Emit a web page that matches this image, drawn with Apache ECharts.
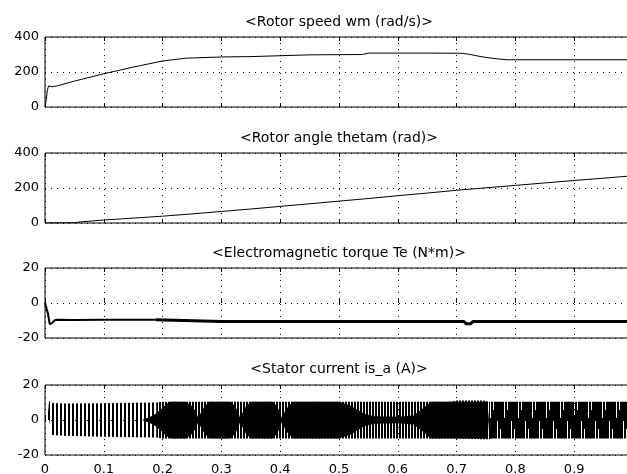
<!DOCTYPE html>
<html>
<head>
<meta charset="utf-8">
<script src="https://cdn.jsdelivr.net/npm/echarts@6/dist/echarts.min.js"></script>
<style>
  html, body { margin: 0; padding: 0; background: #fff; }
  #main { width: 627px; height: 474px; }
</style>
</head>
<body>
<div id="main"></div>
<script>
// time axis labels (seconds)
var timeTicks = ['0', '0.1', '0.2', '0.3', '0.4', '0.5', '0.6', '0.7', '0.8', '0.9', '1'];

var plotTitles = [
  '<Rotor speed wm (rad/s)>',
  '<Rotor angle thetam (rad)>',
  '<Electromagnetic torque Te (N*m)>',
  '<Stator current is_a (A)>'
];

// rotor speed wm
var speedT = [0, 0.002, 0.004, 0.006, 0.009, 0.013, 0.02, 0.05, 0.1, 0.15, 0.2, 0.24, 0.3, 0.35, 0.4, 0.45, 0.54, 0.55, 0.6, 0.65, 0.71, 0.72, 0.735, 0.75, 0.77, 0.785, 0.8, 0.9, 1.0];
var speedW = [0, 40, 95, 120, 128, 116, 120, 148, 190, 228, 263, 279, 286, 288, 293, 298, 300, 308, 308, 308, 307, 302, 292, 283, 275, 270, 270, 270, 270];

// rotor angle thetam
var angleT = [0, 0.05, 0.06, 0.1, 0.15, 0.2, 0.25, 0.3, 0.35, 0.4, 0.45, 0.5, 0.55, 0.6, 0.65, 0.7, 0.75, 0.8, 0.85, 0.9, 0.95, 1.0];
var angleTheta = [0, 2, 6, 17, 28, 39, 52, 66, 80, 95, 110, 125, 140, 156, 171, 187, 201, 215, 229, 243, 256, 270];

// electromagnetic torque Te: start-up part and steady part
var torqueT1 = [0, 0.003, 0.005, 0.008, 0.012, 0.016, 0.02, 0.05, 0.1, 0.15, 0.188];
var torqueTe1 = [0, 0, -6, -12, -11.5, -10, -9.6, -9.7, -9.6, -9.6, -9.6];
var torqueT2 = [0.188, 0.19, 0.3, 0.5, 0.7, 0.712, 0.716, 0.724, 0.728, 0.8, 1.0];
var torqueTe2 = [-9.6, -10.6, -10.6, -10.6, -10.5, -10.5, -11.8, -11.8, -10.5, -10.5, -10.5];

// stator current is_a: envelope of the oscillation
var currEnvT = [0, 0.004, 0.007, 0.012, 0.03, 0.1, 0.19, 0.2, 0.5, 0.69, 0.7, 0.745, 0.755, 0.76, 1.0];
var currEnvHi = [0, 0.3, 10.8, 9.8, 9.5, 9.6, 10, 10.5, 10.5, 10.5, 11.2, 11.2, 10.5, 10.5, 10.5];
var currEnvLo = [0, -0.3, 0, -8.5, -9, -9.5, -10, -10.5, -10.5, -10.5, -10.5, -11, -11, -10.5, -10.5];

// stator current: half height of the solid (densely filled) part
var currSolidT = [0.165, 0.18, 0.19, 0.2, 0.21, 0.215, 0.24, 0.25, 0.256, 0.261, 0.266, 0.272, 0.28,
  0.315, 0.323, 0.328, 0.332, 0.337, 0.342, 0.35, 0.387, 0.394, 0.399, 0.403, 0.408, 0.414, 0.422,
  0.5, 0.52, 0.542, 0.56, 0.6, 0.627, 0.644, 0.656, 0.752, 0.755];
var currSolidHalf = [0, 2, 4, 7, 10, 10.5, 10.5, 8, 5, 1, 5, 8, 10.5,
  10.5, 8, 5, 1, 5, 8, 10.5, 10.5, 8, 5, 1, 5, 8, 10.5,
  10.5, 8.3, 3.7, 2.2, 1.8, 2.6, 7, 10.5, 10.5, 0];

var FONT = 'DejaVu Sans';
var gridTops = [37, 153, 268, 385];
var titleTops = [15, 131, 246, 362];

function pairs(xs, ys) {
  return xs.map(function (x, i) { return [x, ys[i]]; });
}

function stripes(on, off) {
  var c = document.createElement('canvas');
  c.width = on + off;
  c.height = 4;
  var g = c.getContext('2d');
  g.fillStyle = '#000';
  g.fillRect(0, 0, on, 4);
  return { image: c, repeat: 'repeat' };
}

// dense tail of the current: black with gaps alternating in the upper and lower half
function wedges() {
  var c = document.createElement('canvas');
  c.width = 14;
  c.height = 474;
  var g = c.getContext('2d');
  g.fillStyle = '#000';
  g.fillRect(0, 0, 14, 474);
  g.clearRect(0, 398, 1, 20);
  g.clearRect(3, 398, 1, 12);
  g.clearRect(7, 421, 1, 20);
  g.clearRect(10, 429, 1, 12);
  return { image: c, repeat: 'repeat' };
}

// filled band between lo and hi on the current plot, one polygon
function band(ts, lo, hi, fill, z) {
  var rows = ts.map(function (t, i) { return [t, lo[i], hi[i]]; });
  return {
    type: 'custom', xAxisIndex: 3, yAxisIndex: 3, z: z, silent: true, clip: true,
    data: rows,
    renderItem: function (params, api) {
      if (params.dataIndex !== 0) return null;
      var pts = [];
      rows.forEach(function (r) { pts.push(api.coord([r[0], r[2]])); });
      for (var k = rows.length - 1; k >= 0; k--) pts.push(api.coord([rows[k][0], rows[k][1]]));
      return { type: 'polygon', shape: { points: pts }, style: { fill: fill, stroke: null } };
    }
  };
}

function segment(ts, a, b) {
  var idx = [];
  ts.forEach(function (t, i) { if (t >= a && t <= b) idx.push(i); });
  return idx;
}

var myChart = echarts.init(document.getElementById('main'));

var grids = [], xAxes = [], yAxes = [];
var yRanges = [[0, 400, 200], [0, 400, 200], [-20, 20, 20], [-20, 20, 20]];
var dotted = { color: '#000', width: 1, type: [1, 5] };

for (var i = 0; i < 4; i++) {
  grids.push({
    left: 45, top: gridTops[i], width: 588, height: 70, outerBoundsMode: 'none',
    show: true, borderColor: '#000', borderWidth: 1, backgroundColor: '#fff'
  });
  yAxes.push({
    gridIndex: i, type: 'value', min: yRanges[i][0], max: yRanges[i][1], interval: yRanges[i][2],
    axisLine: { show: false }, axisTick: { show: false },
    axisLabel: { color: '#000', fontFamily: FONT, fontSize: 13, margin: 6 },
    splitLine: { show: true, lineStyle: dotted }
  });
}
for (var i = 0; i < 4; i++) {
  xAxes.push({
    gridIndex: i, type: 'value', min: 0, max: 1, interval: 0.1, position: 'bottom',
    axisLine: { show: false },
    axisTick: { show: true, inside: true, length: 4, lineStyle: { color: '#000' } },
    axisLabel: {
      show: i === 3, color: '#000', fontFamily: FONT, fontSize: 13, margin: 8,
      formatter: function (v) { return timeTicks[Math.round(v * 10)]; }
    },
    splitLine: { show: true, lineStyle: dotted }
  });
}
for (var i = 0; i < 4; i++) {
  xAxes.push({
    gridIndex: i, type: 'value', min: 0, max: 1, interval: 0.1, position: 'top',
    axisLine: { show: false },
    axisTick: { show: true, inside: true, length: 4, lineStyle: { color: '#000' } },
    axisLabel: { show: false }, splitLine: { show: false }
  });
}

var blackLine = function (w) { return { color: '#000', width: w }; };

var series = [
  { type: 'line', xAxisIndex: 0, yAxisIndex: 0, data: pairs(speedT, speedW), symbol: 'none', lineStyle: blackLine(1) },
  { type: 'line', xAxisIndex: 1, yAxisIndex: 1, data: pairs(angleT, angleTheta), symbol: 'none', lineStyle: blackLine(1) },
  { type: 'line', xAxisIndex: 2, yAxisIndex: 2, data: pairs(torqueT1, torqueTe1), symbol: 'none', lineStyle: blackLine(2) },
  { type: 'line', xAxisIndex: 2, yAxisIndex: 2, data: pairs(torqueT2, torqueTe2), symbol: 'none', lineStyle: blackLine(3) }
];

// current: envelope in three parts with different textures, then the solid core on top
var parts = [[0, 0.19, stripes(2, 2)], [0.19, 0.755, stripes(2, 1)], [0.755, 1, wedges()]];
parts.forEach(function (p) {
  var idx = segment(currEnvT, p[0], p[1]);
  series.push(band(
    idx.map(function (j) { return currEnvT[j]; }),
    idx.map(function (j) { return currEnvLo[j]; }),
    idx.map(function (j) { return currEnvHi[j]; }),
    p[2], 2));
});
series.push(band(currSolidT, currSolidHalf.map(function (u) { return -u; }), currSolidHalf, '#000', 3));

var option = {
  animation: false,
  backgroundColor: '#fff',
  title: plotTitles.map(function (t, i) {
    return {
      text: t, left: 339, top: titleTops[i], textAlign: 'center', padding: 0,
      textStyle: { fontFamily: FONT, fontSize: 14, fontWeight: 'normal', color: '#000' }
    };
  }),
  grid: grids,
  xAxis: xAxes,
  yAxis: yAxes,
  series: series
};

myChart.setOption(option);
</script>
</body>
</html>
